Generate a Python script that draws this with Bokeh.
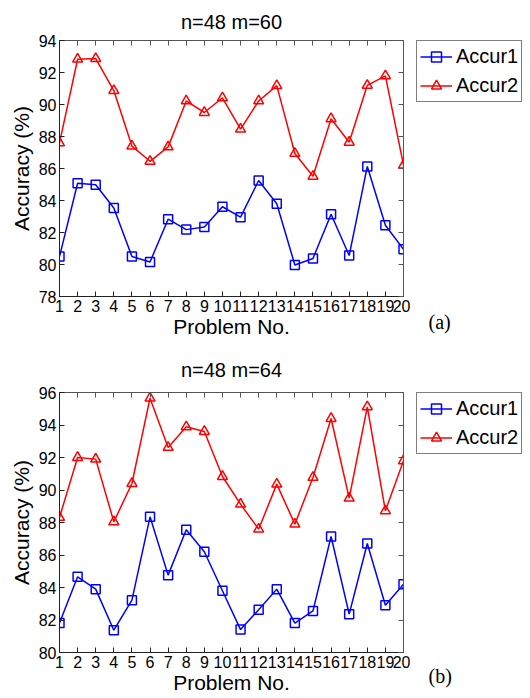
from bokeh.plotting import figure
from bokeh.models import (Range1d, FixedTicker, LinearAxis, Legend, LegendItem, Title)
from bokeh.layouts import column, row
from bokeh.embed import file_html
from bokeh.resources import INLINE

problems = list(range(1, 21))
x_tick_labels = [str(i) for i in problems]
series_names = ["Accur1", "Accur2"]

# Panel (a): n=48 m=60
accur1_a = [80.5, 85.08, 84.98, 83.53, 80.5, 80.16, 82.83, 82.18, 82.34, 83.61,
            82.96, 85.25, 83.8, 79.97, 80.38, 83.14, 80.56, 86.13, 82.45, 80.95]
accur2_a = [87.6, 92.83, 92.87, 90.87, 87.4, 86.45, 87.35, 90.22, 89.5, 90.42,
            88.46, 90.22, 91.18, 86.94, 85.51, 89.11, 87.64, 91.2, 91.79, 86.21]

# Panel (b): n=48 m=64
accur1_b = [81.81, 84.66, 83.9, 81.37, 83.22, 88.35, 84.76, 87.55, 86.2, 83.8,
            81.41, 82.63, 83.9, 81.81, 82.56, 87.14, 82.36, 86.71, 82.91, 84.2]
accur2_b = [88.31, 92.0, 91.9, 88.04, 90.4, 95.65, 92.62, 93.89, 93.6, 90.83,
            89.13, 87.59, 90.36, 87.9, 90.77, 94.4, 89.5, 95.12, 88.72, 91.8]

y_ticks_a = [78, 80, 82, 84, 86, 88, 90, 92, 94]
y_ticks_b = [80, 82, 84, 86, 88, 90, 92, 94, 96]

FONT = "Liberation Sans"
MAIN_W = 410
SIDE_W = 120


def add_series(p, xs, a1, a2, sq=9, tri=10):
    l1 = p.line(xs, a1, line_color="blue", line_width=1.5)
    s1 = p.scatter(xs, a1, marker="square", size=sq, line_color="blue",
                   fill_alpha=0, line_width=1.5)
    l2 = p.line(xs, a2, line_color="red", line_width=1.5)
    s2 = p.scatter(xs, a2, marker="triangle", size=tri, line_color="red",
                   fill_alpha=0, line_width=1.5)
    return (l1, s1), (l2, s2)


def build(title, a1, a2, yticks, tag, top_border, bottom_border, height,
          title_standoff, tag_standoff):
    p = figure(width=MAIN_W, height=height, output_backend="svg", toolbar_location=None,
               x_range=Range1d(1, 20), y_range=Range1d(yticks[0], yticks[-1]),
               min_border_left=59, min_border_right=MAIN_W - 59 - 344,
               min_border_top=top_border, min_border_bottom=bottom_border)
    p.title.text = title
    p.title.align = "center"
    p.title.text_font = FONT
    p.title.text_font_size = "20px"
    p.title.text_font_style = "normal"
    p.title.text_color = "black"
    p.title.standoff = title_standoff
    p.grid.grid_line_color = None
    p.outline_line_color = "#555555"
    p.background_fill_color = "white"
    p.border_fill_color = "white"

    p.xaxis.ticker = FixedTicker(ticks=problems)
    p.xaxis.major_label_overrides = {i: s for i, s in zip(problems, x_tick_labels)}
    p.yaxis.ticker = FixedTicker(ticks=yticks)
    for ax in (p.xaxis[0], p.yaxis[0]):
        ax.major_tick_in = 5
        ax.major_tick_out = 0
        ax.minor_tick_line_color = None
        ax.axis_line_color = "#222222"
        ax.major_tick_line_color = "#222222"
        ax.major_label_text_font = FONT
        ax.major_label_text_font_size = "16px"
        ax.major_label_text_color = "black"
        ax.axis_label_text_font = FONT
        ax.axis_label_text_font_size = "21px"
        ax.axis_label_text_font_style = "normal"
        ax.axis_label_text_color = "black"
    p.xaxis.axis_label = "Problem No."
    p.yaxis.axis_label = "Accuracy (%)"
    p.xaxis.major_label_standoff = 3
    p.xaxis.axis_label_standoff = 0
    p.yaxis.major_label_standoff = 3
    p.yaxis.axis_label_standoff = 3

    top = LinearAxis(ticker=FixedTicker(ticks=problems),
                     major_label_overrides={i: "" for i in problems},
                     major_tick_in=5, major_tick_out=0, minor_tick_line_color=None,
                     axis_line_color="#555555", major_tick_line_color="#555555",
                     major_label_standoff=0)
    right = LinearAxis(ticker=FixedTicker(ticks=yticks),
                       major_label_overrides={t: "" for t in yticks},
                       major_tick_in=5, major_tick_out=0, minor_tick_line_color=None,
                       axis_line_color="#555555", major_tick_line_color="#555555",
                       major_label_standoff=0)
    p.add_layout(top, "above")
    p.add_layout(right, "right")

    add_series(p, problems, a1, a2)

    # side panel holding the legend and the panel tag; its series lie outside its range
    side = figure(width=SIDE_W, height=height, output_backend="svg", toolbar_location=None,
                  x_range=Range1d(-2, -1), y_range=Range1d(0, 1),
                  x_axis_location=None, y_axis_location=None,
                  min_border_left=6, min_border_right=0,
                  min_border_top=top_border, min_border_bottom=0)
    side.grid.grid_line_color = None
    side.outline_line_color = None
    side.background_fill_color = "white"
    side.border_fill_color = "white"
    g1, g2 = add_series(side, problems, a1, a2, sq=7, tri=8)
    legend = Legend(items=[LegendItem(label=series_names[0], renderers=list(g1)),
                           LegendItem(label=series_names[1], renderers=list(g2))],
                    location="top_left", orientation="vertical",
                    label_text_font=FONT, label_text_font_size="20px",
                    label_text_color="black",
                    glyph_width=32, glyph_height=25, label_height=25, label_standoff=4,
                    padding=3, spacing=4, margin=0,
                    border_line_color="black", border_line_width=1,
                    background_fill_color="white", background_fill_alpha=1)
    side.add_layout(legend)

    tag_title = Title(text=tag, align="left", offset=12, standoff=tag_standoff,
                      text_font="Liberation Serif", text_font_size="20px",
                      text_font_style="normal", text_color="black")
    side.add_layout(tag_title, "below")
    return row(p, side, spacing=0)


r1 = build("n=48 m=60", accur1_a, accur2_a, y_ticks_a, "(a)", 35, 48, 344, 16, 24)
r2 = build("n=48 m=64", accur1_b, accur2_b, y_ticks_b, "(b)", 48, 46, 354, 24, 20)
layout = column(r1, r2, spacing=0)

open("out.html", "w").write(file_html(layout, INLINE))
